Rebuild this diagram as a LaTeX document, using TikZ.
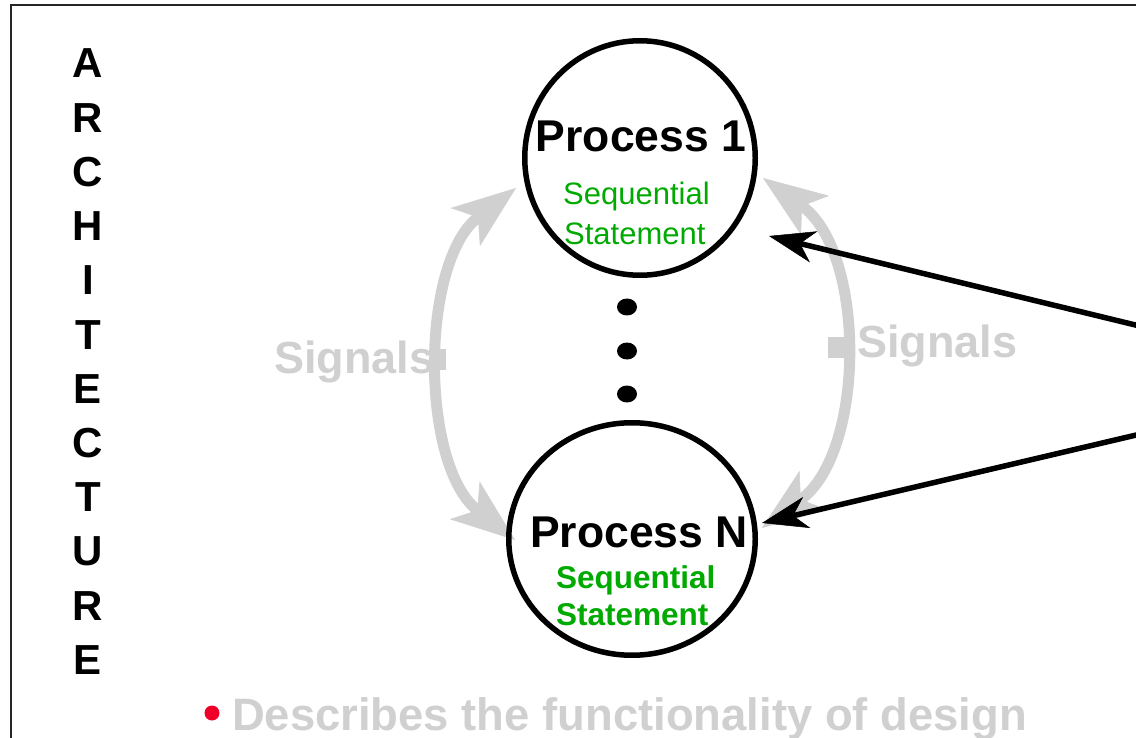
\documentclass[tikz,border=0pt]{standalone}
\usepackage{fontspec}
\setmainfont{Liberation Sans}
\usetikzlibrary{arrows.meta,shapes.geometric}
\definecolor{seqgreen}{RGB}{0,170,0}
\definecolor{siggray}{RGB}{208,208,208}
\definecolor{bulletred}{RGB}{240,0,40}
\begin{document}
\begin{tikzpicture}[x=1pt,y=-1pt,
  proc/.style={ellipse, draw=black, line width=5.5pt, inner sep=0pt, outer sep=0pt},
  ptitle/.style={font=\fontsize{44.5}{48}\selectfont\bfseries, anchor=base, inner sep=0pt},
  seqtext/.style={font=\fontsize{31}{36}\selectfont, text=seqgreen, anchor=base west, inner sep=0pt},
  seqbold/.style={font=\fontsize{31.5}{36}\selectfont\bfseries, text=seqgreen, anchor=base west, inner sep=0pt},
  sigtext/.style={font=\fontsize{45}{48}\selectfont\bfseries, text=siggray, anchor=base west, inner sep=0pt},
  archletter/.style={font=\fontsize{42}{48}\selectfont\bfseries, anchor=base, inner sep=0pt},
  dotmark/.style={ellipse, fill=black, minimum width=20pt, minimum height=17pt, inner sep=0pt},
  sigtip/.tip={Stealth[length=64pt,width=48pt,inset=16pt,line width=0.5pt]},
  sigarrow/.style={draw=siggray, line width=11pt, sigtip-sigtip},
  callout/.style={draw=black, line width=5.5pt,
    -{Stealth[length=46pt,width=32pt,inset=14pt,line width=0.5pt]}}
]
% canvas and clipping window
\useasboundingbox (0,0) rectangle (1136,738);
\fill[white] (0,0) rectangle (1136,738);
\clip (0,0) rectangle (1136,738);

% outer frame (continues past the right and bottom edges)
\draw[black!85, line width=2pt] (10.5,5) rectangle (1160,760);

% vertical word
\foreach \ch [count=\i] in {A,R,C,H,I,T,E,C,T,U,R,E}
  \node[archletter] (arch\i) at (88, {78+54.2*(\i-1)}) {\ch};

% ends of the signal arcs
\coordinate (gl1) at (516,188);
\coordinate (glN) at (515,540);
\coordinate (gr1) at (763,178);
\coordinate (grN) at (762,528);

% signal arcs between the processes
\path[sigarrow] (glN) .. controls (420,465) and (420,262) .. (gl1);
\path[sigarrow] (grN) .. controls (866,452) and (866,252) .. (gr1);
\fill[siggray] (434,349) rectangle (446,370);
\fill[siggray] (828,337) rectangle (847,358);

% processes
\node[proc, minimum width=230.5pt, minimum height=234.5pt] (p1) at (640,158) {};
\node[proc, minimum width=246.5pt, minimum height=232.5pt] (pN) at (632,539) {};

\node[ptitle] (p1title) at (641,152) {Process 1};
\node[seqtext] (p1seq) at (563,205) {Sequential};
\node[seqtext] (p1stm) at (564,245) {Statement};

\node[ptitle] (pNtitle) at (639,547) {Process N};
\node[seqbold] (pNseq) at (556,588) {Sequential};
\node[seqbold] (pNstm) at (556,625) {Statement};

% ellipsis between the processes
\node[dotmark] (d1) at (627,307) {};
\node[dotmark] (d2) at (627,351) {};
\node[dotmark] (d3) at (627,394) {};

% signal labels
\node[sigtext] (sigL) at (274,373) {Signals};
\node[sigtext] (sigR) at (857,357) {Signals};

% callout arrows from the right
\coordinate (src) at (1366,381);
\coordinate (tip1) at (769,236);
\coordinate (tipN) at (762,523);
\draw[callout] (src) -- (tip1);
\draw[callout] (src) -- (tipN);

% bullet line
\fill[bulletred] (212,713) circle[radius=7.5pt];
\node[font=\fontsize{45.4}{50}\selectfont\bfseries, text=siggray, anchor=base west, inner sep=0pt]
  (desc) at (232,730) {Describes the functionality of design};
\end{tikzpicture}
\end{document}
